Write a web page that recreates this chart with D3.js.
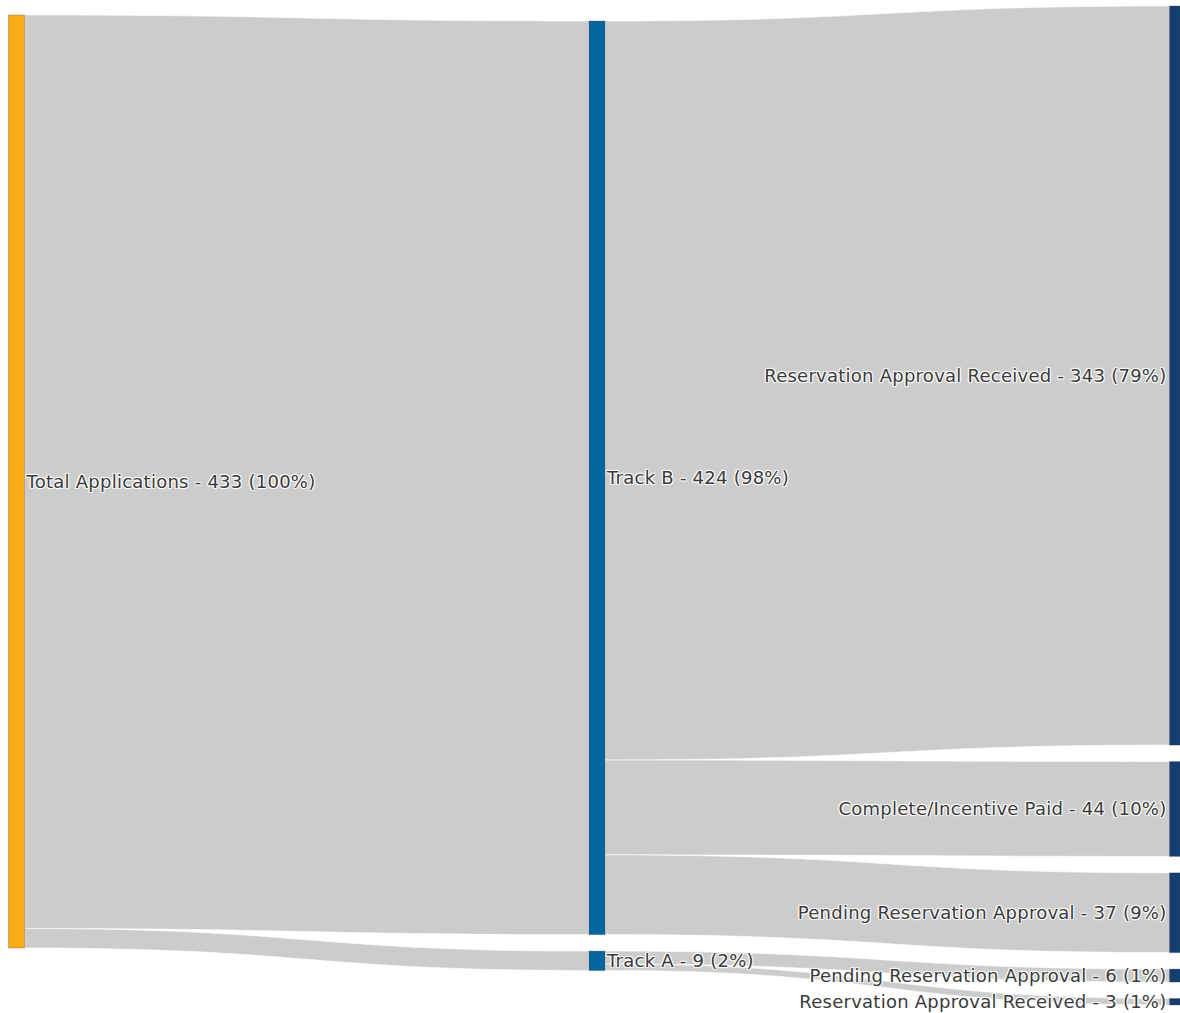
<!DOCTYPE html>
<html lang="en">
<head>
  <meta charset="UTF-8">
  <title>Applications Sankey</title>
  <script src="https://d3js.org/d3.v7.min.js"></script>
  <style>
    html, body {
      margin: 0;
      padding: 0;
      width: 100%;
      height: 100%;
      overflow: hidden;
      background: #fff;
      font-family: "DejaVu Sans", sans-serif;
    }
    svg {
      display: block;
    }
    .label {
      fill: #3a3a3a;
      letter-spacing: 0.25px;
      text-shadow: 1px 1px 1px #fff, -1px -1px 1px #fff, 1px -1px 1px #fff, -1px 1px 1px #fff;
    }
  </style>
</head>
<body>
<svg></svg>

<script>
const width = 1180;
const height = 1013;

// nodes: name, column, colour
const nodeNames = [
  "Total Applications",
  "Track B",
  "Track A",
  "Reservation Approval Received",
  "Complete/Incentive Paid",
  "Pending Reservation Approval",
  "Pending Reservation Approval",
  "Reservation Approval Received"
];
const nodeColumns = [0, 1, 1, 2, 2, 2, 2, 2];
const nodeColors = ["#fbad18", "#06679e", "#06679e", "#153d6d", "#153d6d", "#153d6d", "#153d6d", "#153d6d"];

// links: source index, target index, value
const linkSources = [0, 0, 1, 1, 1, 2, 2];
const linkTargets = [1, 2, 3, 4, 5, 6, 7];
const linkValues  = [424, 9, 343, 44, 37, 6, 3];

const total = 433;

// layout settings
const nodeWidth = 16;
const colTop = [15, 21, 6];
const nodePad = 16.5;

const svg = d3.select("svg").attr("width", width).attr("height", height);

const x = d3.scaleLinear().domain([0, 2]).range([8.5, 1169.5]);
const k = d3.scaleLinear().domain([0, total]).range([0, 933]);

const links = linkValues.map((v, i) => ({ source: linkSources[i], target: linkTargets[i], value: v }));

const nodes = nodeNames.map((name, i) => {
  const out = d3.sum(links.filter(l => l.source === i), l => l.value);
  const inn = d3.sum(links.filter(l => l.target === i), l => l.value);
  return { name, col: nodeColumns[i], color: nodeColors[i], value: Math.max(out, inn) };
});

// stack nodes in each column
d3.range(3).forEach(c => {
  let y = colTop[c];
  nodes.forEach(n => {
    if (n.col !== c) return;
    n.x0 = x(c);
    n.x1 = n.x0 + nodeWidth;
    n.y0 = y;
    n.y1 = y + k(n.value);
    y = n.y1 + nodePad;
  });
});

// link offsets
nodes.forEach((n, i) => {
  let sy = n.y0;
  links.filter(l => l.source === i).forEach(l => { l.sy = sy; sy += k(l.value); });
  let ty = n.y0;
  links.filter(l => l.target === i).forEach(l => { l.ty = ty; ty += k(l.value); });
});

function linkPath(l) {
  const s = nodes[l.source], t = nodes[l.target];
  const x0 = s.x1, x1 = t.x0;
  const xm = d3.interpolateNumber(x0, x1)(0.5);
  const w = k(l.value);
  const y0 = l.sy, y1 = l.ty;
  return `M${x0},${y0}C${xm},${y0} ${xm},${y1} ${x1},${y1}` +
         `L${x1},${y1 + w}C${xm},${y1 + w} ${xm},${y0 + w} ${x0},${y0 + w}Z`;
}

svg.append("g")
  .selectAll("path")
  .data(links)
  .join("path")
  .attr("d", linkPath)
  .attr("fill", "rgba(0,0,0,0.2)")
  .attr("stroke", "#fff")
  .attr("stroke-width", 0.6);

svg.append("g")
  .selectAll("rect")
  .data(nodes)
  .join("rect")
  .attr("x", d => d.x0)
  .attr("y", d => d.y0)
  .attr("width", nodeWidth)
  .attr("height", d => d.y1 - d.y0)
  .attr("fill", d => d.color)
  .attr("stroke", "rgba(60,60,60,0.3)")
  .attr("stroke-width", 1);

const fmtPct = v => Math.round(v / total * 100) + "%";

svg.append("g")
  .selectAll("text")
  .data(nodes)
  .join("text")
  .attr("class", "label")
  .attr("x", d => d.col === 2 ? d.x0 - 3 : d.x1 + 2)
  .attr("y", d => (d.y0 + d.y1) / 2)
  .attr("dy", "0.35em")
  .attr("text-anchor", d => d.col === 2 ? "end" : "start")
  .attr("font-size", "18px")
  .text(d => `${d.name} - ${d.value} (${fmtPct(d.value)})`);
</script>
</body>
</html>
